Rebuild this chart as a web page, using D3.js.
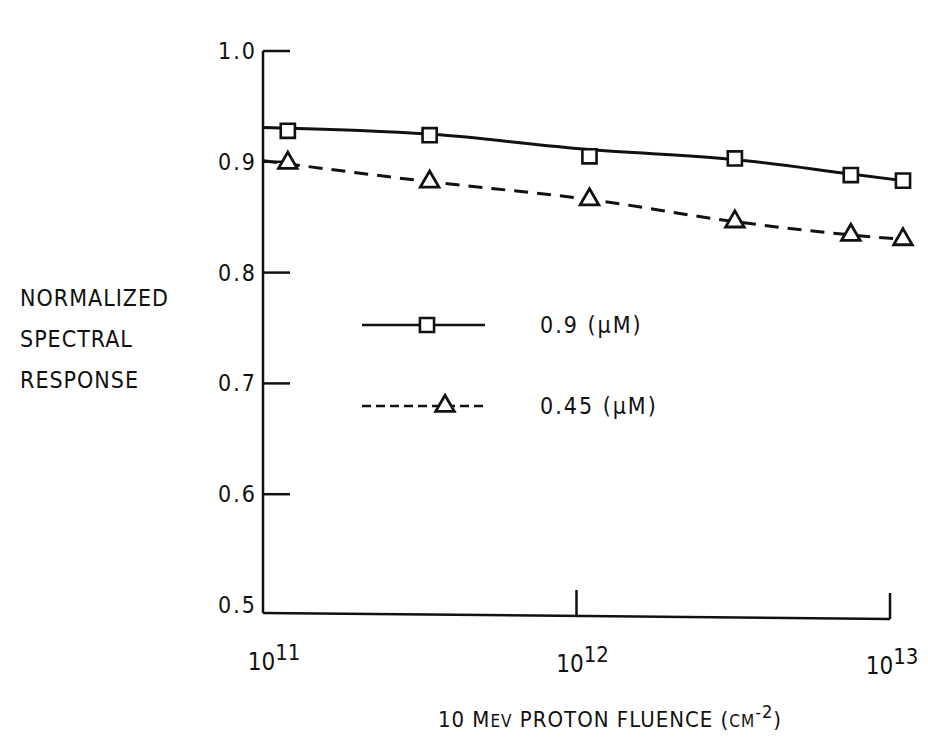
<!DOCTYPE html>
<html>
<head>
<meta charset="utf-8">
<script src="https://cdn.jsdelivr.net/npm/d3@7"></script>
<style>
  body { margin: 0; background: #fff; }
  text { font-family: "DejaVu Sans Condensed", "DejaVu Sans", sans-serif; fill: #111; }
</style>
</head>
<body>
<script>
// measured points
const fluence = [1.2e11, 3.4e11, 1.1e12, 3.2e12, 7.5e12, 1.1e13];
const resp09 = [0.928, 0.924, 0.905, 0.903, 0.888, 0.883];
const resp045 = [0.899, 0.882, 0.866, 0.846, 0.834, 0.830];

// hand-drawn curves through the points
const curveX = [1e11, 3.4e11, 1.1e12, 3.2e12, 7.5e12, 1.1e13];
const curve09 = [0.931, 0.925, 0.911, 0.902, 0.889, 0.883];
const curve045 = [0.901, 0.882, 0.866, 0.846, 0.834, 0.830];

const yTicks = [0.5, 0.6, 0.7, 0.8, 0.9, 1.0];
const xTicks = [1e11, 1e12, 1e13];
const xTickExp = ["11", "12", "13"];
const legendLabels = ["0.9 (\u03bcM)", "0.45 (\u03bcM)"];

const w = 928, h = 751;

const svg = d3.select("body").append("svg")
  .attr("width", w)
  .attr("height", h);

const x = d3.scaleLog().domain([1e11, 1e13]).range([263, 890]);
const y = d3.scaleLinear().domain([0.5, 1.0]).range([605, 51]);
const axisY = 613;

// y axis line
svg.append("line")
  .attr("x1", 263).attr("x2", 263)
  .attr("y1", y(1.0)).attr("y2", axisY)
  .attr("stroke", "#111").attr("stroke-width", 2.5);

// x axis line
svg.append("line")
  .attr("x1", 263).attr("x2", x(1e13))
  .attr("y1", axisY).attr("y2", axisY + 6)
  .attr("stroke", "#111").attr("stroke-width", 2.5);

// y ticks (pointing in)
svg.selectAll(".ytick")
  .data(yTicks.filter(d => d > 0.5))
  .enter().append("line")
  .attr("x1", 263).attr("x2", 290)
  .attr("y1", d => y(d)).attr("y2", d => y(d))
  .attr("stroke", "#111").attr("stroke-width", 2.5);

svg.selectAll(".ylab")
  .data(yTicks)
  .enter().append("text")
  .attr("x", 257)
  .attr("y", d => y(d))
  .attr("dy", "0.35em")
  .attr("text-anchor", "end")
  .attr("font-size", 23)
  .attr("letter-spacing", 2)
  .text(d => d.toFixed(1));

// x ticks (pointing up)
svg.selectAll(".xtick")
  .data(xTicks.slice(1))
  .enter().append("line")
  .attr("x1", d => x(d)).attr("x2", d => x(d))
  .attr("y1", (d, i) => axisY + (i + 1) * 3)
  .attr("y2", (d, i) => axisY + (i + 1) * 3 - 26)
  .attr("stroke", "#111").attr("stroke-width", 2.5);

const xl = svg.selectAll(".xlab")
  .data(xTicks)
  .enter().append("text")
  .attr("x", (d, i) => x(d) + [11, 6, 2][i])
  .attr("y", (d, i) => 670 + i * 2)
  .attr("text-anchor", "middle")
  .attr("font-size", 24);
xl.append("tspan").text("10");
xl.append("tspan")
  .attr("dy", -10)
  .attr("font-size", 22)
  .text((d, i) => xTickExp[i]);

// curves
const line = d3.line()
  .x(d => x(d[0]))
  .y(d => y(d[1]))
  .curve(d3.curveMonotoneX);

svg.append("path")
  .datum(curveX.map((d, i) => [d, curve09[i]]))
  .attr("d", line)
  .attr("fill", "none")
  .attr("stroke", "#111")
  .attr("stroke-width", 3);

svg.append("path")
  .datum(curveX.map((d, i) => [d, curve045[i]]))
  .attr("d", line)
  .attr("fill", "none")
  .attr("stroke", "#111")
  .attr("stroke-width", 3)
  .attr("stroke-dasharray", "14,9");

// markers
svg.selectAll(".sq")
  .data(fluence.map((d, i) => [d, resp09[i]]))
  .enter().append("path")
  .attr("d", d3.symbol().type(d3.symbolSquare).size(200)())
  .attr("transform", d => `translate(${x(d[0])},${y(d[1])})`)
  .attr("fill", "#fff")
  .attr("stroke", "#111")
  .attr("stroke-width", 2.6);

svg.selectAll(".tri")
  .data(fluence.map((d, i) => [d, resp045[i]]))
  .enter().append("path")
  .attr("d", d3.symbol().type(d3.symbolTriangle).size(150)())
  .attr("transform", d => `translate(${x(d[0])},${y(d[1])})`)
  .attr("fill", "#fff")
  .attr("stroke", "#111")
  .attr("stroke-width", 2.8);

// legend
const legend = svg.append("g");
legend.append("line")
  .attr("x1", 362).attr("x2", 485)
  .attr("y1", 325).attr("y2", 325)
  .attr("stroke", "#111").attr("stroke-width", 2.4);
legend.append("path")
  .attr("d", d3.symbol().type(d3.symbolSquare).size(200)())
  .attr("transform", "translate(427,325)")
  .attr("fill", "#fff").attr("stroke", "#111").attr("stroke-width", 2.6);
legend.append("line")
  .attr("x1", 362).attr("x2", 485)
  .attr("y1", 406).attr("y2", 406)
  .attr("stroke", "#111").attr("stroke-width", 2.4)
  .attr("stroke-dasharray", "9,5");
legend.append("path")
  .attr("d", d3.symbol().type(d3.symbolTriangle).size(150)())
  .attr("transform", "translate(445,406)")
  .attr("fill", "#fff").attr("stroke", "#111").attr("stroke-width", 2.8);
legend.selectAll("text")
  .data(legendLabels)
  .enter().append("text")
  .attr("x", 540)
  .attr("y", (d, i) => 325 + i * 81)
  .attr("dy", "0.35em")
  .attr("font-size", 23)
  .attr("letter-spacing", 2)
  .text(d => d);

// y title
svg.selectAll(".ytitle")
  .data(["NORMALIZED", "SPECTRAL", "RESPONSE"])
  .enter().append("text")
  .attr("x", 20)
  .attr("y", (d, i) => 298 + i * 41)
  .attr("dy", "0.35em")
  .attr("font-size", 23)
  .attr("letter-spacing", 1)
  .text(d => d);

// x title
const xt = svg.append("text")
  .attr("x", 610)
  .attr("y", 727)
  .attr("text-anchor", "middle")
  .attr("font-size", 22)
  .attr("letter-spacing", 1);
xt.append("tspan").text("10 M");
xt.append("tspan").attr("font-size", 17).text("EV");
xt.append("tspan").text(" PROTON FLUENCE (");
xt.append("tspan").attr("font-size", 17).text("CM");
xt.append("tspan").attr("dy", -9).attr("font-size", 18).text("-2");
xt.append("tspan").attr("dy", 9).text(")");
</script>
</body>
</html>
